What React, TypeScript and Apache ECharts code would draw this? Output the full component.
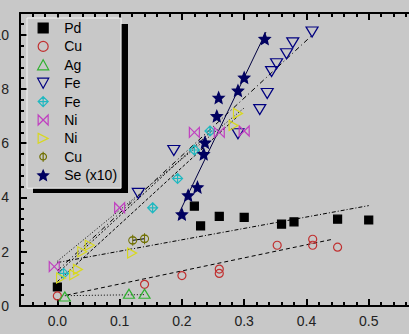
import React, { useEffect, useRef } from 'react';
import * as echarts from 'echarts';

const BG = '#c8c8c8';
const FONT = "'Liberation Sans', Arial, sans-serif";

// ---- data (x, y) ----
const pdData = [[0.0, 0.7], [0.22, 3.68], [0.23, 2.95], [0.26, 3.3], [0.30, 3.27], [0.36, 3.02], [0.38, 3.1], [0.45, 3.2], [0.50, 3.17]];
const cuData = [[0.0, 0.37], [0.14, 0.8], [0.20, 1.12], [0.26, 1.36], [0.26, 1.2], [0.353, 2.24], [0.41, 2.46], [0.41, 2.24], [0.45, 2.17]];
const agData = [[0.012, 0.35], [0.115, 0.45], [0.14, 0.45]];
const feData = [[0.13, 4.15], [0.187, 5.73], [0.29, 6.35], [0.325, 7.24], [0.337, 7.83], [0.344, 8.64], [0.352, 8.93], [0.368, 9.3], [0.378, 9.7], [0.409, 10.1]];
const fe2Data = [[0.01, 1.2], [0.153, 3.62], [0.193, 4.7], [0.22, 5.75], [0.245, 6.45]];
const niData = [[-0.005, 1.45], [0.1, 3.62], [0.22, 6.4], [0.26, 6.4], [0.30, 6.45]];
const ni2Data = [[0.006, 1.03], [0.027, 1.15], [0.033, 1.35], [0.04, 2.0], [0.052, 2.24], [0.12, 1.95], [0.283, 6.65], [0.29, 7.1]];
const cu2Data = [[0.121, 2.42], [0.14, 2.48]];
const seData = [[0.2, 3.38], [0.21, 4.08], [0.225, 4.38], [0.235, 5.6], [0.237, 6.03], [0.256, 7.0], [0.259, 7.68], [0.29, 7.94], [0.30, 8.42], [0.333, 9.85]];

// ---- fitted lines (end points) ----
const pdFit = [[0.0, 1.6], [0.5, 3.7]];
const cuFit = [[0.015, 0.4], [0.44, 2.45]];
const agFit = [[0.012, 0.38], [0.14, 0.42]];
const feFit = [[0.0, 1.3], [0.41, 10.0]];
const fe2Fit = [[0.0, 1.2], [0.25, 6.5]];
const niFit = [[0.0, 1.65], [0.30, 7.3]];
const ni2Fit = [[0.0, 0.9], [0.29, 7.0]];
const cu2Fit = [[0.121, 2.42], [0.14, 2.48]];
const seFit = [[0.195, 3.4], [0.335, 10.1]];

// ---- axes ----
const xMajor = [0, 0.1, 0.2, 0.3, 0.4, 0.5, 0.6];
const xLabels = [0, 0.1, 0.2, 0.3, 0.4, 0.5];
const yMajor = [0, 2, 4, 6, 8, 10];
const yLabels = [0, 2, 4, 6, 8, 10];
const legendNames = ['Pd', 'Cu', 'Ag', 'Fe', 'Fe ', 'Ni', 'Ni ', 'Cu ', 'Se (x10)'];

// ---- symbols ----
const SYM = {
  square: 'path://M0,0H10V10H0Z',
  circle: 'path://M0,5A5,5 0 1 1 10,5A5,5 0 1 1 0,5Z',
  triUp: 'path://M5,0L10,9L0,9Z',
  triDown: 'path://M0,0L10,0L5,9Z',
  crossDiamond: 'path://M5,0L10,5L5,10L0,5Z M5,0L5,10 M0,5L10,5',
  bowtie: 'path://M0,0L10,10L10,0L0,10Z',
  triRight: 'path://M0,0L10,5L0,10Z',
  phi: 'path://M1,6A4,4 0 1 1 9,6A4,4 0 1 1 1,6Z M5,0L5,12',
  star: 'path://M5,0L6.35,3.15L9.76,3.45L7.18,5.7L7.94,9.05L5,7.3L2.06,9.05L2.82,5.7L0.24,3.45L3.65,3.15Z',
};

function scatter(name: string, data: number[][], symbol: string, size: number[], color: string, filled: boolean) {
  return {
    name,
    type: 'scatter',
    data,
    symbol,
    symbolSize: size,
    z: 5,
    itemStyle: {
      color: filled ? color : 'rgba(0,0,0,0)',
      borderColor: color,
      borderWidth: 1.2,
      opacity: 1,
    },
  };
}

function fit(name: string, data: number[][], type: any, color = '#000') {
  return {
    name,
    type: 'line',
    data,
    showSymbol: false,
    symbol: 'none',
    z: 3,
    silent: true,
    lineStyle: { color, width: 1, type },
  };
}

const tickStyle = { color: '#000', width: 2 };

const option: any = {
  animation: false,
  backgroundColor: BG,
  grid: { left: 20, top: 13, bottom: 28, right: -22, containLabel: false, outerBoundsMode: 'none' },
  xAxis: [
    {
      type: 'value', position: 'bottom', min: -0.06, max: 0.6, interval: 0.02,
      axisLine: { show: true, onZero: false, lineStyle: { color: '#000', width: 2 } },
      axisTick: { show: true, inside: true, length: 4, lineStyle: tickStyle },
      axisLabel: { show: false }, splitLine: { show: false },
    },
    {
      type: 'value', position: 'bottom', min: -0.06, max: 0.6,
      axisLine: { show: false, onZero: false },
      axisTick: { show: true, inside: true, length: 7, customValues: xMajor, lineStyle: tickStyle },
      axisLabel: {
        show: true, customValues: xLabels, margin: 8, fontSize: 14, fontFamily: FONT, color: '#222',
        formatter: (v: number) => v.toFixed(1),
      },
      splitLine: { show: false },
    },
    {
      type: 'value', position: 'top', min: -0.06, max: 0.6, interval: 0.02,
      axisLine: { show: true, onZero: false, lineStyle: { color: '#000', width: 2 } },
      axisTick: { show: true, inside: true, length: 4, lineStyle: tickStyle },
      axisLabel: { show: false }, splitLine: { show: false },
    },
    {
      type: 'value', position: 'top', min: -0.06, max: 0.6,
      axisLine: { show: false, onZero: false },
      axisTick: { show: true, inside: true, length: 7, customValues: xMajor, lineStyle: tickStyle },
      axisLabel: { show: false }, splitLine: { show: false },
    },
  ],
  yAxis: [
    {
      type: 'value', position: 'left', min: 0, max: 10.8, interval: 0.4,
      axisLine: { show: true, onZero: false, lineStyle: { color: '#000', width: 2 } },
      axisTick: { show: true, inside: true, length: 4, lineStyle: tickStyle },
      axisLabel: { show: false }, splitLine: { show: false },
    },
    {
      type: 'value', position: 'left', min: 0, max: 10.8,
      axisLine: { show: false, onZero: false },
      axisTick: { show: true, inside: true, length: 7, customValues: yMajor, lineStyle: tickStyle },
      axisLabel: {
        show: true, customValues: yLabels, margin: 11, fontSize: 14, fontFamily: FONT, color: '#222',
        formatter: (v: number) => String(v),
      },
      splitLine: { show: false },
    },
  ],
  legend: {
    data: legendNames,
    orient: 'vertical',
    left: 27,
    top: 18,
    itemWidth: 32,
    itemHeight: 10,
    itemGap: 4.4,
    padding: [3, 4, 6, 10],
    backgroundColor: BG,
    borderColor: '#f4f4f4',
    borderWidth: 1,
    selectedMode: false,
    itemStyle: { borderWidth: 1.2 },
    formatter: (n: string) => n.trim(),
    textStyle: { fontSize: 14, fontFamily: FONT, color: '#000' },
    z: 10,
  },
  graphic: [
    { type: 'rect', left: 33, top: 24, shape: { width: 95, height: 169 }, style: { fill: '#000' }, z: 9 },
  ],
  series: [
    fit('Pd fit', pdFit, [4, 2, 1, 2]),
    fit('Cu fit', cuFit, [4, 3]),
    fit('Ag fit', agFit, [1, 2]),
    fit('Fe fit', feFit, [5, 3, 1, 3]),
    fit('Fe2 fit', fe2Fit, [2, 2]),
    fit('Ni fit', niFit, [1, 2]),
    fit('Ni2 fit', ni2Fit, [3, 2]),
    fit('Cu2 fit', cu2Fit, 'solid'),
    fit('Se fit', seFit, 'solid', '#000040'),
    scatter('Pd', pdData, SYM.square, [8, 8], '#000000', true),
    scatter('Cu', cuData, SYM.circle, [8, 8], '#c03030', false),
    scatter('Ag', agData, SYM.triUp, [11, 9], '#30b030', false),
    scatter('Fe', feData, SYM.triDown, [12, 10], '#000080', false),
    scatter('Fe ', fe2Data, SYM.crossDiamond, [10, 10], '#20b8c0', false),
    scatter('Ni', niData, SYM.bowtie, [10, 10], '#c040c0', false),
    scatter('Ni ', ni2Data, SYM.triRight, [9, 10], '#d8d820', false),
    scatter('Cu ', cu2Data, SYM.phi, [8, 11], '#707000', false),
    scatter('Se (x10)', seData, SYM.star, [11, 11], '#000060', true),
  ],
};

export default function App() {
  const ref = useRef<HTMLDivElement>(null);
  useEffect(() => {
    const chart = echarts.init(ref.current!, null, { renderer: 'svg' });
    chart.setOption(option);
    return () => chart.dispose();
  }, []);
  return (
    <div
      ref={ref}
      style={{ position: 'fixed', left: 0, top: 0, width: 409, height: 334, background: BG }}
    />
  );
}
